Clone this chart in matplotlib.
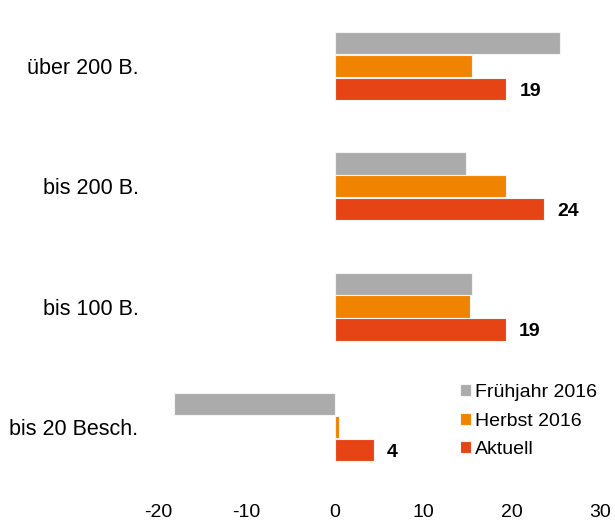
import numpy as np
import matplotlib.pyplot as plt

plt.rcParams['font.family'] = ['Liberation Sans', 'DejaVu Sans']
plt.rcParams['axes.unicode_minus'] = False

categories = ["über 200 B.", "bis 200 B.", "bis 100 B.", "bis 20 Besch."]
series_names = ["Frühjahr 2016", "Herbst 2016", "Aktuell"]
fruehjahr = [25.4, 14.8, 15.5, -18.2]
herbst = [15.5, 19.4, 15.3, 0.45]
aktuell = [19.4, 23.6, 19.3, 4.4]
colors = ["#ABABAB", "#F08300", "#E64415"]

fig = plt.figure(figsize=(6.15, 5.22), dpi=100)
ax = fig.add_axes([0.257, 0.0575, 0.719, 0.927])

y = np.arange(len(categories))[::-1]
h = 0.185
offsets = [0.19, 0.0, -0.19]
for vals, off, col, name in zip([fruehjahr, herbst, aktuell], offsets, colors, series_names):
    ax.barh(y + off, vals, height=h, color=col, edgecolor="#f4f4f4", linewidth=0.8, label=name)

# Werte für Aktuell
for yi, v in zip(y, aktuell):
    ax.text(v + 1.5, yi - 0.21, f"{round(v)}", va="center", ha="left",
            fontsize=14, fontweight="bold")

ax.set_xlim(-20, 30)
ax.set_ylim(-0.54, 3.48)
ax.set_xticks([-20, -10, 0, 10, 20, 30])
ax.set_yticks(y)
ax.set_yticklabels(categories, fontsize=15.5)
ax.tick_params(axis="both", length=0)
ax.tick_params(axis="x", labelsize=14, pad=9)
ax.tick_params(axis="y", pad=14)
for s in ax.spines.values():
    s.set_visible(False)

fig.legend(loc="upper left", bbox_to_anchor=(460 / 615, 1 - 384 / 522), frameon=False,
           fontsize=14, handlelength=0.57, handleheight=0.57, handletextpad=0.2,
           labelspacing=0.6, borderpad=0, borderaxespad=0)

plt.savefig("out.png", dpi=100)
